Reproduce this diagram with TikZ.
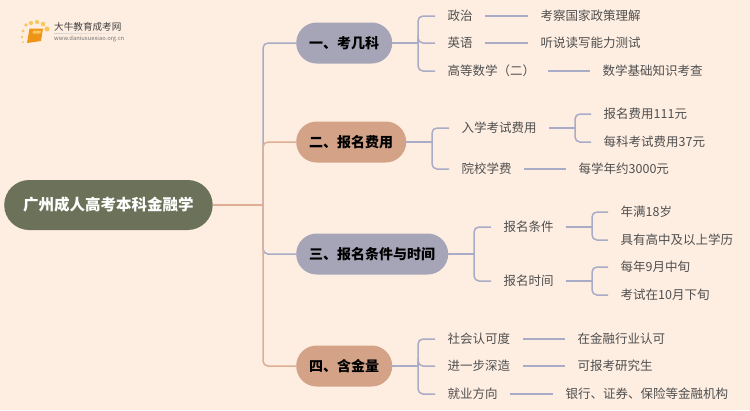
\documentclass[tikz,border=0pt]{standalone}
\usepackage{fontspec}
\setmainfont{Noto Sans CJK SC}
\usepackage{xcolor}
\usepackage{tikz}
\definecolor{paperColor}{HTML}{FEEEE2}
\definecolor{rootColor}{HTML}{6B7259}
\definecolor{lavenderColor}{HTML}{A6A5B8}
\definecolor{peachColor}{HTML}{D3A287}
\definecolor{linkColor}{HTML}{A9ACC6}
\definecolor{trunkColor}{HTML}{DFAE94}
\definecolor{leafColor}{HTML}{4F4F4F}
\definecolor{bookColor}{HTML}{EE9416}
\definecolor{dotColor}{HTML}{F9C75C}
\tikzset{
    rootbox/.style={fill=rootColor, text=white, rounded corners=25pt, minimum height=50pt, inner xsep=19pt, inner ysep=0pt, font=\fontsize{15.5}{19}\selectfont\bfseries, anchor=west},
    branchbox/.style={rounded corners=20.5pt, minimum height=41pt, inner xsep=13pt, inner ysep=0pt, text=black, font=\fontsize{14}{17}\selectfont\bfseries, anchor=west},
    leaf/.style={text=leafColor, inner xsep=12.5pt, inner ysep=1pt, font=\fontsize{12.5}{15}\selectfont, anchor=west},
    link/.style={draw=linkColor, line width=1.5pt},
    elbow/.style={link, rounded corners=5pt},
    trunk/.style={draw=trunkColor, line width=1.5pt, rounded corners=5pt}
}
\begin{document}
\begin{tikzpicture}[x=1pt, y=-1pt]
    \useasboundingbox (0,0) rectangle (750,410);
    \fill[paperColor] (0,0) rectangle (750,410);

    % logo
    \foreach \x/\y/\r in {23/31/1.7, 26/25/1.9, 31/23/2.1, 37/22/2.1, 43/24/2.3, 47/29/2.6, 22/37/1.3, 23/42/1}
        \fill[dotColor] (\x,\y) circle (\r);
    \fill[bookColor] (29.5,28.5) -- (43,28.5) -- (41,41) -- (27,43) -- cycle;
    \fill[dotColor] (33,30.5) -- (41,30.5) -- (40.5,33.5) -- (32.5,33.5) -- cycle;
    \shade[left color=gray!35, right color=paperColor] (54,33) rectangle (132,33.8);
    \node[text=black!75, inner sep=0pt, anchor=west, font=\fontsize{9.6}{11}\selectfont] (logotext) at (54,27) {大牛教育成考网};
    \node[text=black!55, inner sep=0pt, anchor=west, font=\fontsize{5.8}{7}\selectfont] (logourl) at (54,39) {www.daniuxuexiao.org.cn};

    % main nodes
    \node[rootbox] (root) at (4,205) {广州成人高考本科金融学};
    \node[branchbox, fill=lavenderColor] (kemu) at (296,43) {一、考几科};
    \node[branchbox, fill=peachColor] (feiyong) at (296,142) {二、报名费用};
    \node[branchbox, fill=lavenderColor] (tiaojian) at (296,254) {三、报名条件与时间};
    \node[branchbox, fill=peachColor] (hanjin) at (296,366) {四、含金量};

    \coordinate (hub) at (263,205);
    \draw[link, rounded corners=5pt] (hub) |- (kemu.west);
    \draw[link, rounded corners=5pt] (hub) |- (tiaojian.west);
    \draw[trunk] (hub) |- (feiyong.west);
    \draw[trunk] (hub) |- (hanjin.west);
    \draw[trunk] (root.east) -- (hub);

    % first branch
    \coordinate (kemuStem) at (418,43);
    \draw[link] (kemu.east) -- (kemuStem);
    \foreach \name/\y/\txt/\lx/\more in {
        zhengzhi/16/政治/528/考察国家政策理解,
        yingyu/43/英语/528/听说读写能力测试,
        shuxue/71/高等数学（二）/590/数学基础知识考查} {
        \node[leaf] (\name) at (435,\y) {\txt};
        \node[leaf] (\name Note) at (\lx,\y) {\more};
        \draw[elbow] (kemuStem) |- (\name.west);
        \draw[link] (\name.east) -- (\name Note.west);
    }

    % second branch
    \coordinate (feiyongStem) at (432,142);
    \draw[link] (feiyong.east) -- (feiyongStem);
    \node[leaf] (ruxue) at (449,128) {入学考试费用};
    \node[leaf] (xuefei) at (449,169) {院校学费};
    \node[leaf] (xuefeiNote) at (566,169) {每学年约3000元};
    \draw[elbow] (feiyongStem) |- (ruxue.west);
    \draw[elbow] (feiyongStem) |- (xuefei.west);
    \draw[link] (xuefei.east) -- (xuefeiNote.west);
    \coordinate (ruxueStem) at (575,128);
    \draw[link] (ruxue.east) -- (ruxueStem);
    \node[leaf] (baoming) at (591,114) {报名费用111元};
    \node[leaf] (meike) at (591,142) {每科考试费用37元};
    \draw[elbow] (ruxueStem) |- (baoming.west);
    \draw[elbow] (ruxueStem) |- (meike.west);

    % third branch
    \coordinate (tiaojianStem) at (474,254);
    \draw[link] (tiaojian.east) -- (tiaojianStem);
    \node[leaf] (cond) at (491,227) {报名条件};
    \node[leaf] (time) at (491,281) {报名时间};
    \draw[elbow] (tiaojianStem) |- (cond.west);
    \draw[elbow] (tiaojianStem) |- (time.west);
    \coordinate (condStem) at (592,227);
    \coordinate (timeStem) at (592,281);
    \draw[link] (cond.east) -- (condStem);
    \draw[link] (time.east) -- (timeStem);
    \node[leaf] (age) at (608,212) {年满18岁};
    \node[leaf] (edu) at (608,240) {具有高中及以上学历};
    \node[leaf] (sept) at (608,267) {每年9月中旬};
    \node[leaf] (oct) at (608,295) {考试在10月下旬};
    \draw[elbow] (condStem) |- (age.west);
    \draw[elbow] (condStem) |- (edu.west);
    \draw[elbow] (timeStem) |- (sept.west);
    \draw[elbow] (timeStem) |- (oct.west);

    % fourth branch
    \coordinate (hanjinStem) at (418,366);
    \draw[link] (hanjin.east) -- (hanjinStem);
    \foreach \name/\y/\txt/\lx/\more in {
        renke/339/社会认可度/565/在金融行业认可,
        shenzao/366/进一步深造/565/可报考研究生,
        fangxiang/394/就业方向/553/银行、证券、保险等金融机构} {
        \node[leaf] (\name) at (435,\y) {\txt};
        \node[leaf] (\name Note) at (\lx,\y) {\more};
        \draw[elbow] (hanjinStem) |- (\name.west);
        \draw[link] (\name.east) -- (\name Note.west);
    }
\end{tikzpicture}
\end{document}
